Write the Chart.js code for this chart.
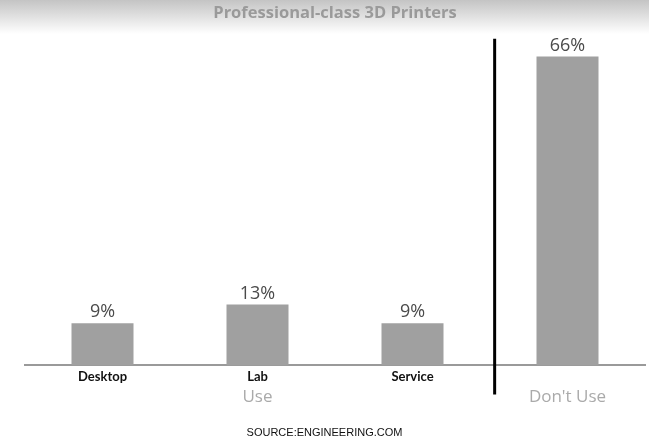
<!DOCTYPE html>
<html><head><meta charset="utf-8">
<script src="https://cdn.jsdelivr.net/npm/chart.js@4/dist/chart.umd.min.js"></script>
<style>html,body{margin:0;padding:0;background:#fff;}#wrap{width:649px;height:439px;position:relative;}</style>
</head><body><div id="wrap"><canvas id="c" width="649" height="439"></canvas></div>
<script>
const categories = ["Desktop", "Lab", "Service", ""];
const values = [9, 13, 9, 66];
const valueLabels = ["9%", "13%", "9%", "66%"];
const groupLabels = ["Use", "Don't Use"];
const groupCenters = [1, 3];
const dividerAt = 2.53;
const sourceText = 'SOURCE:ENGINEERING.COM';

const overlay = {
  id: 'overlay',
  beforeDraw(chart) {
    const ctx = chart.ctx;
    ctx.save();
    ctx.fillStyle = '#fff';
    ctx.fillRect(0, 0, chart.width, chart.height);
    const g = ctx.createLinearGradient(0, 0, 0, 34);
    g.addColorStop(0, '#c4c4c4');
    g.addColorStop(1, 'rgba(255,255,255,1)');
    ctx.fillStyle = g;
    ctx.fillRect(0, 0, chart.width, 34);
    ctx.restore();
  },
  afterDraw(chart) {
    const ctx = chart.ctx;
    const xs = chart.scales.x;
    const meta = chart.getDatasetMeta(0);
    ctx.save();
    ctx.font = '18px "Open Sans", sans-serif';
    ctx.fillStyle = '#4a4a4a';
    ctx.textAlign = 'center';
    ctx.textBaseline = 'bottom';
    meta.data.forEach((bar, i) => {
      ctx.fillText(valueLabels[i], bar.x, bar.y - 2);
    });
    ctx.font = '17px "Open Sans", sans-serif';
    ctx.fillStyle = '#aaa';
    ctx.textBaseline = 'middle';
    const gy = chart.chartArea.bottom + 32;
    groupLabels.forEach((t, i) => {
      ctx.fillText(t, xs.getPixelForValue(groupCenters[i]), gy);
    });
    const dx = xs.getPixelForValue(dividerAt);
    ctx.strokeStyle = '#000';
    ctx.lineWidth = 3;
    ctx.beginPath();
    ctx.moveTo(dx, chart.chartArea.top + 1);
    ctx.lineTo(dx, chart.chartArea.bottom + 29);
    ctx.stroke();
    ctx.font = '11px "Liberation Sans", Arial, sans-serif';
    ctx.fillStyle = '#111';
    ctx.fillText(sourceText, chart.width / 2, chart.chartArea.bottom + 68);
    ctx.restore();
  }
};

new Chart(document.getElementById('c'), {
  type: 'bar',
  data: {
    labels: categories,
    datasets: [{
      data: values,
      backgroundColor: '#a0a0a0',
      borderWidth: 0,
      categoryPercentage: 0.8,
      barPercentage: 0.5
    }]
  },
  options: {
    responsive: false,
    animation: false,
    layout: { padding: { left: 25, right: 4, top: 0, bottom: 50 } },
    plugins: {
      legend: { display: false },
      tooltip: { enabled: false },
      title: {
        display: true,
        text: 'Professional-class 3D Printers',
        color: '#9a9a9a',
        font: { family: '"Open Sans", sans-serif', size: 16.5, weight: 'bold' },
        padding: { top: 3, bottom: 15 }
      }
    },
    scales: {
      x: {
        grid: { display: false, tickLength: 0 },
        border: { display: true, color: '#9a9a9a', width: 2 },
        ticks: {
          color: '#111',
          padding: 4,
          font: { family: 'Lato, sans-serif', size: 13, weight: 'bold' }
        }
      },
      y: {
        display: false,
        min: 0,
        max: 70
      }
    }
  },
  plugins: [overlay]
});
</script>
</body></html>
